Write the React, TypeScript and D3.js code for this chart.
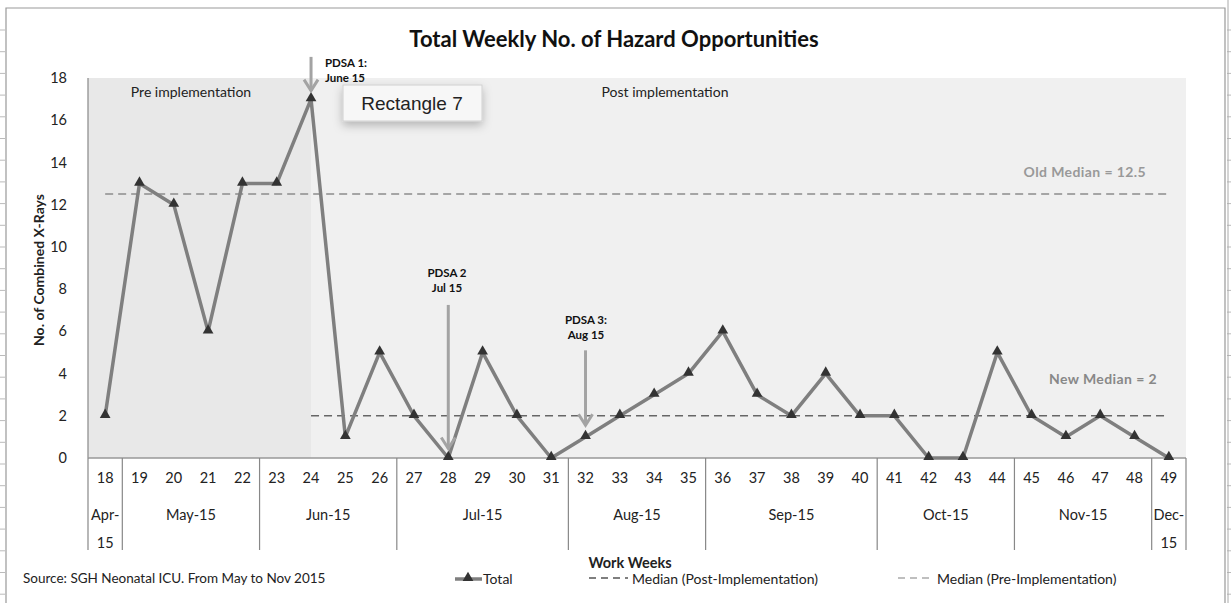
import React, { useRef, useEffect } from 'react';
import * as d3 from 'd3';

// work weeks on the x axis
const weeks = ['18', '19', '20', '21', '22', '23', '24', '25', '26', '27', '28', '29', '30', '31', '32', '33',
  '34', '35', '36', '37', '38', '39', '40', '41', '42', '43', '44', '45', '46', '47', '48', '49'];

// total weekly hazard opportunities
const totals = [2, 13, 12, 6, 13, 13, 17, 1, 5, 2, 0, 5, 2, 0, 1, 2, 3, 4, 6, 3, 2, 4, 2, 2, 0, 0, 5, 2, 1, 2, 1, 0];

// month groups under the weeks
const monthLabels = [['Apr-', '15'], ['May-15'], ['Jun-15'], ['Jul-15'], ['Aug-15'], ['Sep-15'], ['Oct-15'], ['Nov-15'], ['Dec-', '15']];
const monthFirstWeek = ['18', '19', '23', '27', '32', '36', '41', '45', '49'];
const monthLastWeek = ['18', '22', '26', '31', '35', '40', '44', '48', '49'];

const yTicks = [0, 2, 4, 6, 8, 10, 12, 14, 16, 18];

const preMedian = 12.5;
const postMedian = 2;
const implementationWeek = '24';

// PDSA arrows: week, label lines, arrow from / to (in y units)
const pdsaWeeks = ['24', '28', '32'];
const pdsaLabels = [['PDSA 1:', 'June 15'], ['PDSA 2', 'Jul 15'], ['PDSA 3:', 'Aug 15']];
const pdsaFrom = [19.0, 7.25, 5.1];
const pdsaTo = [17.4, 0.45, 1.55];

const FONT = 'Lato, "Open Sans", sans-serif';

function HazardChart({ width = 1231, height = 603 }) {
  const svgRef = useRef(null);

  useEffect(() => {
    document.body.style.margin = '0';
    const svg = d3.select(svgRef.current);
    svg.selectAll('*').remove();
    svg.attr('width', width).attr('height', height);

    const plot = { left: 88, right: 1186, top: 78, bottom: 458 };

    const x = d3.scaleBand().domain(weeks).range([plot.left, plot.right]).padding(0);
    const y = d3.scaleLinear().domain([0, 18]).range([plot.bottom, plot.top]);
    const cx = (w) => x(w) + x.bandwidth() / 2;

    const defs = svg.append('defs');
    const f = defs.append('filter').attr('id', 'shadow').attr('x', '-30%').attr('y', '-50%').attr('width', '160%').attr('height', '220%');
    f.append('feDropShadow').attr('dx', 0).attr('dy', 4).attr('stdDeviation', 5).attr('flood-color', '#000').attr('flood-opacity', 0.25);

    // spreadsheet edges behind the chart
    svg.append('rect').attr('x', 0).attr('y', 0).attr('width', width).attr('height', height).attr('fill', '#fff');
    d3.range(30, height, 21.7).forEach((t) => {
      svg.append('line').attr('x1', 0).attr('x2', 5).attr('y1', t).attr('y2', t).attr('stroke', '#bbb');
      svg.append('line').attr('x1', 1227).attr('x2', 1231).attr('y1', t).attr('y2', t).attr('stroke', '#bbb');
    });
    svg.append('line').attr('x1', 1228).attr('x2', 1228).attr('y1', 0).attr('y2', height).attr('stroke', '#aaa');
    svg.append('path').attr('d', `M6,${height}V8H1225V${height}`).attr('fill', 'none').attr('stroke', '#999').attr('stroke-width', 1.2);

    // shaded regions
    const splitX = cx(implementationWeek);
    svg.append('rect').attr('x', plot.left).attr('y', plot.top).attr('width', splitX - plot.left)
      .attr('height', plot.bottom - plot.top).attr('fill', '#e8e8e8');
    svg.append('rect').attr('x', splitX).attr('y', plot.top).attr('width', plot.right - splitX)
      .attr('height', plot.bottom - plot.top).attr('fill', '#f0f0f0');

    // title
    svg.append('text').attr('x', 614).attr('y', 47).attr('text-anchor', 'middle')
      .attr('font-family', FONT).attr('font-weight', 'bold').attr('font-size', 22).attr('fill', '#111')
      .text('Total Weekly No. of Hazard Opportunities');

    // y axis
    svg.append('line').attr('x1', plot.left).attr('x2', plot.left).attr('y1', plot.top).attr('y2', plot.bottom)
      .attr('stroke', '#888').attr('stroke-width', 1.2);
    svg.append('g').selectAll('text').data(yTicks).enter().append('text')
      .attr('x', 67).attr('y', (d) => y(d)).attr('dy', '0.35em').attr('text-anchor', 'end')
      .attr('font-family', FONT).attr('font-size', 14.5).attr('fill', '#222').text((d) => d);
    svg.append('text').attr('transform', `translate(44,${(plot.top + plot.bottom) / 2 + 2}) rotate(-90)`)
      .attr('text-anchor', 'middle').attr('font-family', FONT).attr('font-weight', 'bold').attr('font-size', 14)
      .attr('fill', '#222').text('No. of Combined X-Rays');

    // x axis with grouped categories
    svg.append('line').attr('x1', plot.left).attr('x2', plot.right).attr('y1', plot.bottom).attr('y2', plot.bottom)
      .attr('stroke', '#999').attr('stroke-width', 1.5);
    svg.append('g').selectAll('text').data(weeks).enter().append('text')
      .attr('x', (d) => cx(d)).attr('y', 478).attr('dy', '0.35em').attr('text-anchor', 'middle')
      .attr('font-family', FONT).attr('font-size', 14.5).attr('fill', '#222').text((d) => d);
    const bounds = [plot.left, ...monthLastWeek.map((w) => x(w) + x.bandwidth())];
    bounds.forEach((b) => {
      svg.append('line').attr('x1', b).attr('x2', b).attr('y1', plot.bottom).attr('y2', 550)
        .attr('stroke', '#888').attr('stroke-width', 1.2);
    });
    monthLabels.forEach((lines, i) => {
      const mid = (x(monthFirstWeek[i]) + x(monthLastWeek[i]) + x.bandwidth()) / 2;
      lines.forEach((t, j) => {
        svg.append('text').attr('x', mid).attr('y', 515 + j * 28).attr('dy', '0.35em').attr('text-anchor', 'middle')
          .attr('font-family', FONT).attr('font-size', 14.5).attr('fill', '#222').text(t);
      });
    });

    // region labels
    svg.append('text').attr('x', 191).attr('y', 92).attr('dy', '0.35em').attr('text-anchor', 'middle')
      .attr('font-family', FONT).attr('font-size', 14).attr('fill', '#222').text('Pre implementation');
    svg.append('text').attr('x', 665).attr('y', 92).attr('dy', '0.35em').attr('text-anchor', 'middle')
      .attr('font-family', FONT).attr('font-size', 14).attr('fill', '#222').text('Post implementation');

    // median lines
    const last = weeks[weeks.length - 1];
    svg.append('line').attr('x1', cx(weeks[0])).attr('x2', cx(last)).attr('y1', y(preMedian)).attr('y2', y(preMedian))
      .attr('stroke', '#8c8c8c').attr('stroke-width', 1.5).attr('stroke-dasharray', '8,5');
    svg.append('line').attr('x1', splitX).attr('x2', cx(last)).attr('y1', y(postMedian)).attr('y2', y(postMedian))
      .attr('stroke', '#666').attr('stroke-width', 1.5).attr('stroke-dasharray', '8,5');
    svg.append('text').attr('x', 1146).attr('y', 172).attr('dy', '0.35em').attr('text-anchor', 'end')
      .attr('font-family', FONT).attr('font-weight', 'bold').attr('font-size', 14).attr('fill', '#999')
      .attr('letter-spacing', 0.4).text('Old Median = 12.5');
    svg.append('text').attr('x', 1157).attr('y', 379).attr('dy', '0.35em').attr('text-anchor', 'end')
      .attr('font-family', FONT).attr('font-weight', 'bold').attr('font-size', 14).attr('fill', '#888')
      .attr('letter-spacing', 0.4).text('New Median = 2');

    // total line
    const line = d3.line().x((d, i) => cx(weeks[i])).y((d) => y(d));
    svg.append('path').datum(totals).attr('d', line).attr('fill', 'none')
      .attr('stroke', '#7f7f7f').attr('stroke-width', 3.5).attr('stroke-linejoin', 'round');
    const tri = d3.symbol().type(d3.symbolTriangle).size(50);
    svg.append('g').selectAll('path').data(totals).enter().append('path')
      .attr('d', tri).attr('transform', (d, i) => `translate(${cx(weeks[i])},${y(d) - 1})`).attr('fill', '#333');

    // PDSA arrows
    pdsaWeeks.forEach((w, i) => {
      const ax = cx(w);
      const y0 = y(pdsaFrom[i]);
      const y1 = y(pdsaTo[i]);
      svg.append('line').attr('x1', ax).attr('x2', ax).attr('y1', y0).attr('y2', y1)
        .attr('stroke', '#a3a3a3').attr('stroke-width', 3);
      svg.append('path').attr('d', `M${ax - 7},${y1 - 11}L${ax},${y1}L${ax + 7},${y1 - 11}`)
        .attr('fill', 'none').attr('stroke', '#a3a3a3').attr('stroke-width', 3);
    });
    [[325, 63, 'start'], [447, 273, 'middle'], [586, 320, 'middle']].forEach(([tx, ty, anchor], i) => {
      pdsaLabels[i].forEach((t, j) => {
        svg.append('text').attr('x', tx).attr('y', ty + j * 15).attr('dy', '0.35em').attr('text-anchor', anchor)
          .attr('font-family', FONT).attr('font-weight', 'bold').attr('font-size', 11.5).attr('fill', '#111').text(t);
      });
    });

    // leftover shape label
    svg.append('rect').attr('x', 343).attr('y', 85).attr('width', 139).attr('height', 36)
      .attr('fill', '#f7f7f7').attr('stroke', '#d0d0d0').attr('filter', 'url(#shadow)');
    svg.append('text').attr('x', 412).attr('y', 103).attr('dy', '0.35em').attr('text-anchor', 'middle')
      .attr('font-family', '"Liberation Sans", Arial, sans-serif').attr('font-size', 19).attr('fill', '#222')
      .text('Rectangle 7');

    // footer
    svg.append('text').attr('x', 23).attr('y', 578).attr('dy', '0.35em')
      .attr('font-family', FONT).attr('font-size', 13.5).attr('fill', '#222')
      .text('Source: SGH Neonatal ICU. From May to Nov 2015');
    svg.append('text').attr('x', 630).attr('y', 563).attr('dy', '0.35em').attr('text-anchor', 'middle')
      .attr('font-family', FONT).attr('font-weight', 'bold').attr('font-size', 14.5).attr('fill', '#222')
      .text('Work Weeks');

    // legend
    const ly = 579;
    svg.append('line').attr('x1', 455).attr('x2', 482).attr('y1', ly).attr('y2', ly)
      .attr('stroke', '#7f7f7f').attr('stroke-width', 3.5);
    svg.append('path').attr('d', tri).attr('transform', `translate(468,${ly - 1})`).attr('fill', '#333');
    svg.append('text').attr('x', 483).attr('y', ly).attr('dy', '0.35em')
      .attr('font-family', FONT).attr('font-size', 14).attr('fill', '#222').text('Total');
    svg.append('line').attr('x1', 589).attr('x2', 628).attr('y1', ly - 1).attr('y2', ly - 1)
      .attr('stroke', '#555').attr('stroke-width', 1.3).attr('stroke-dasharray', '7,5');
    svg.append('text').attr('x', 632).attr('y', ly).attr('dy', '0.35em')
      .attr('font-family', FONT).attr('font-size', 14).attr('fill', '#222').text('Median (Post-Implementation)');
    svg.append('line').attr('x1', 898).attr('x2', 934).attr('y1', ly - 1).attr('y2', ly - 1)
      .attr('stroke', '#aaa').attr('stroke-width', 1.3).attr('stroke-dasharray', '7,5');
    svg.append('text').attr('x', 937).attr('y', ly).attr('dy', '0.35em')
      .attr('font-family', FONT).attr('font-size', 14).attr('fill', '#222').text('Median (Pre-Implementation)');
  }, [width, height]);

  return <svg ref={svgRef} style={{ display: 'block' }} />;
}

export default function App() {
  return <HazardChart />;
}
